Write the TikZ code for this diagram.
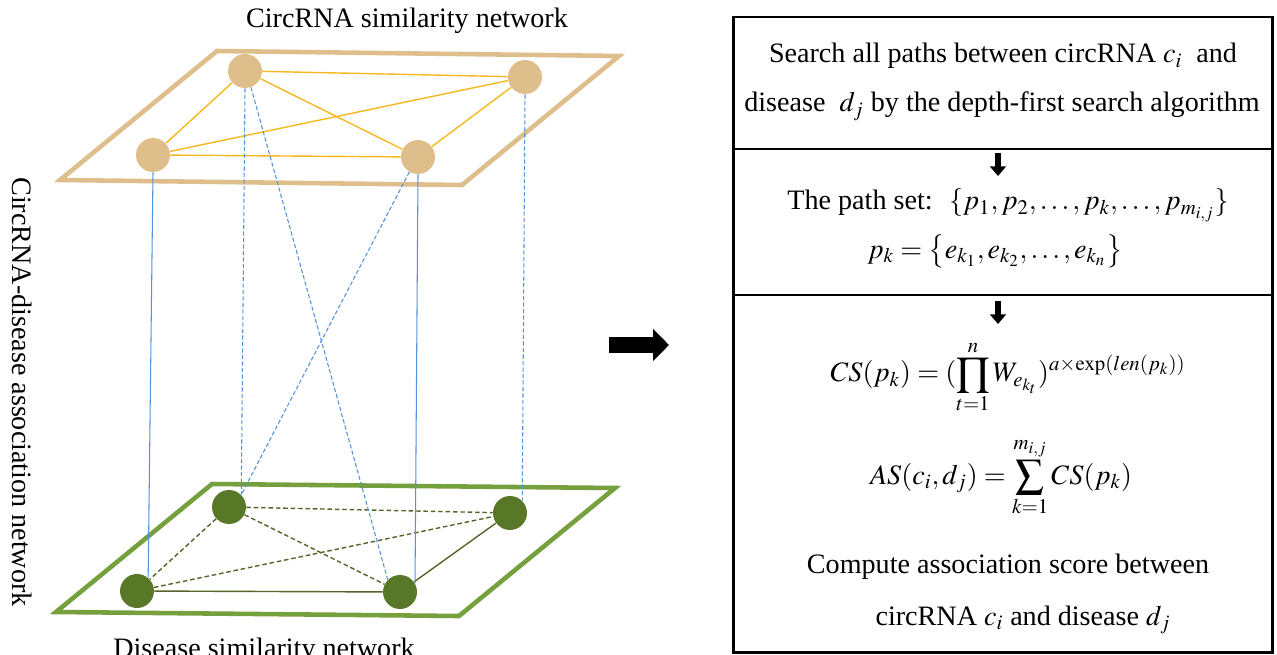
\documentclass[tikz,border=0pt]{standalone}
\usepackage{mathptmx}
\usepackage{fontspec}
\setmainfont{Liberation Serif}
\usetikzlibrary{arrows.meta}

\newcommand\panelfont{\fontsize{16}{19}\selectfont}

\definecolor{tanplane}{RGB}{222,191,140}
\definecolor{tanedge}{RGB}{245,184,30}
\definecolor{greenplane}{RGB}{118,160,62}
\definecolor{greennode}{RGB}{88,120,40}
\definecolor{greenedge}{RGB}{85,100,40}
\definecolor{linkblue}{RGB}{84,146,220}

\tikzset {
  % layer outline
  plane/.style = {
    line width = 2.6pt,
    line join = miter
  },
  % circRNA node
  cnode/.style = {
    circle,
    fill = tanplane,
    minimum size = .68cm,
    inner sep = 0
  },
  % disease node
  dnode/.style = {
    cnode,
    fill = greennode
  },
  cedge/.style = {
    draw = tanedge,
    line width = .8pt
  },
  dedge/.style = {
    draw = greenedge,
    line width = .8pt
  },
  dedged/.style = {
    dedge,
    dash pattern = on 2.6pt off 1.6pt
  },
  % circRNA-disease links
  link/.style = {
    draw = linkblue,
    line width = .6pt
  },
  linkd/.style = {
    link,
    dash pattern = on 2.4pt off 1.3pt
  }
}
\tikzset {
  lbl/.style = {
    font = \panelfont,
    inner sep = 0
  },
  darr/.style = {
    line width = 3.2pt,
    -{Triangle[width = 9pt, length = 5.5pt]}
  },
  bigarr/.style = {
    line width = 9pt,
    -{Triangle[width = 17.6pt, length = 9pt]}
  }
}

\begin{document}
\begin{tikzpicture}[x = .02cm, y = -.02cm]
    \useasboundingbox (0,0) rectangle (1277,655);

    % the two layers
    \draw[plane, draw = tanplane] (217,51) -- (619,56) -- (462,185) -- (60,180) -- cycle;
    \draw[plane, draw = greenplane] (212,484) -- (615,488) -- (459,616) -- (56,612) -- cycle;

    \node[cnode] (c1) at (245,71) {};
    \node[cnode] (c2) at (525,77) {};
    \node[cnode] (c3) at (153,155) {};
    \node[cnode] (c4) at (418,157) {};

    \node[dnode] (d1) at (229,507) {};
    \node[dnode] (d2) at (510,513) {};
    \node[dnode] (d3) at (137,591) {};
    \node[dnode] (d4) at (400,592) {};

    \draw[cedge] (c1) -- (c2);
    \draw[cedge] (c1) -- (c3);
    \draw[cedge] (c1) -- (c4);
    \draw[cedge] (c3) -- (c2);
    \draw[cedge] (c3) -- (c4);
    \draw[cedge] (c4) -- (c2);

    \draw[dedged] (d1) -- (d2);
    \draw[dedged] (d1) -- (d3);
    \draw[dedged] (d1) -- (d4);
    \draw[dedged] (d3) -- (d2);
    \draw[dedge] (d3) -- (d4);
    \draw[dedge] (d4) -- (d2);

    \draw[link] (c3.south) -- (d3.50);
    \draw[linkd] (c1.south) -- (d1.45);
    \draw[linkd] (c1.290) -- (d4.135);
    \draw[linkd] (c4.240) -- (d1.45);
    \draw[link] (c4.south) -- (d4.30);
    \draw[linkd] (c2.south) -- (d2.45);

    \node[lbl, anchor = base] (ctitle) at (407,28) {CircRNA similarity network};
    \node[lbl, anchor = base] (dtitle) at (264,657) {Disease similarity network};
    \node[lbl, rotate = -90] (atitle) at (22,392) {CircRNA-disease association network};

    \coordinate (go-a) at (609,345);
    \coordinate (go-b) at (669,345);
    \draw[bigarr] (go-a) -- (go-b);

    % scoring steps
    \draw[line width = 1.7pt] (733,17) rectangle (1272,652);
    \draw[line width = .8pt] (733,149) -- (1272,149);
    \draw[line width = .8pt] (733,295) -- (1272,295);

    \node[lbl, anchor = base] (s1) at (1003,63) {Search all paths between circRNA $c_i$\ \ and};
    \node[lbl, anchor = base] (s2) at (1002,112) {disease\ \ $d_j$ by the depth-first search algorithm};

    \coordinate (a1-top) at (998,153);
    \coordinate (a1-bot) at (998,176);
    \draw[darr] (a1-top) -- (a1-bot);

    \node[lbl, anchor = base] (pset) at (1008,210) {The path set: \ $\{p_1,p_2,\ldots,p_k,\ldots,p_{m_{i,j}}\}$};
    \node[lbl, anchor = base] (pk) at (995,258) {$p_k=\left\{e_{k_1},e_{k_2},\ldots,e_{k_n}\right\}$};

    \coordinate (a2-top) at (998,301);
    \coordinate (a2-bot) at (998,324);
    \draw[darr] (a2-top) -- (a2-bot);

    \node[lbl] (cs) at (1008,377) {$\displaystyle CS(p_k)=(\prod_{t=1}^{n}W_{e_{k_t}})^{a\times\exp(len(p_k))}$};
    \node[lbl] (as) at (1001,477) {$\displaystyle AS(c_i,d_j)=\sum_{k=1}^{m_{i,j}}CS(p_k)$};

    \node[lbl, anchor = base] (comp1) at (1008,573) {Compute association score between};
    \node[lbl, anchor = base] (comp2) at (1023,625) {circRNA $c_i$ and disease $d_j$};
\end{tikzpicture}
\end{document}
